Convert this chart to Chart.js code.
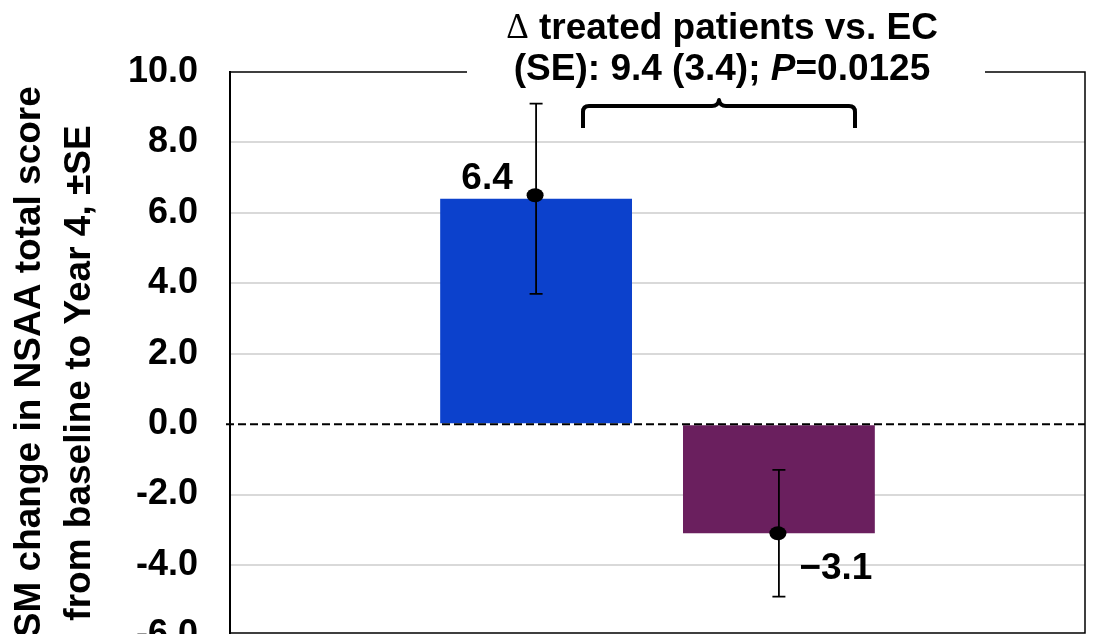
<!DOCTYPE html>
<html>
<head>
<meta charset="utf-8">
<script src="https://cdn.jsdelivr.net/npm/chart.js@4.4.1/dist/chart.umd.min.js"></script>
<style>
  html, body { margin: 0; padding: 0; background: #fff; overflow: hidden; }
  canvas { display: block; }
</style>
</head>
<body>
<canvas id="lsmChart" width="1097" height="689"></canvas>
<script>
// Data
const categories = [''];
const groups = ['Treated patients', 'External control'];
const lsmChange = [6.4, -3.1];
const markerValues = [6.5, -3.1];
const seLow = [3.7, -4.9];
const seHigh = [9.1, -1.3];
const valueLabels = ['6.4', '\u22123.1'];
const barColors = ['#0c41cc', '#6a1f5e'];
const yMin = -6;
const yMax = 10;
const yStep = 2;
const titleLine1 = ['\u0394', ' treated patients vs. EC'];
const titleLine2 = ['(SE): 9.4 (3.4); ', 'P', '=0.0125'];
const yTitleLines = ['LSM change in NSAA total score', 'from baseline to Year 4, \u00b1SE'];

const FONT = 'Arial, "Liberation Sans", sans-serif';
const BOLD = 'bold 37px ' + FONT;

// draw a line of text made of several styled parts, centred on cx
function drawParts(ctx, parts, fonts, cx, cy) {
    const widths = parts.map((p, k) => { ctx.font = fonts[k]; return ctx.measureText(p).width; });
    let x = cx - widths.reduce((a, b) => a + b, 0) / 2;
    ctx.textAlign = 'left';
    parts.forEach((p, k) => {
        ctx.font = fonts[k];
        ctx.fillText(p, x, cy);
        x += widths[k];
    });
}

// Error bars, markers, zero line, frame, title, brace, labels
const overlayPlugin = {
    id: 'overlay',
    afterDatasetsDraw(chart) {
        const ctx = chart.ctx;
        const area = chart.chartArea;
        const y = chart.scales.y;
        ctx.save();

        // dashed zero line
        const y0 = y.getPixelForValue(0);
        ctx.strokeStyle = '#000';
        ctx.lineWidth = 2;
        ctx.setLineDash([8, 4]);
        ctx.beginPath();
        ctx.moveTo(area.left - 4, y0);
        ctx.lineTo(area.right, y0);
        ctx.stroke();
        ctx.setLineDash([]);

        // frame (top + right + bottom); bottom sits a touch above the -6 line
        const yb = area.bottom - 2.5;
        ctx.lineWidth = 1.5;
        ctx.beginPath();
        ctx.moveTo(area.left, area.top);
        ctx.lineTo(area.right, area.top);
        ctx.lineTo(area.right, yb);
        ctx.lineTo(area.left, yb);
        ctx.stroke();

        // error bars + markers
        groups.forEach((g, i) => {
            const x = chart.getDatasetMeta(i).data[0].x;
            const yl = y.getPixelForValue(seLow[i]);
            const yh = y.getPixelForValue(seHigh[i]);
            ctx.lineWidth = 1.8;
            ctx.beginPath();
            ctx.moveTo(x, yl); ctx.lineTo(x, yh);
            ctx.moveTo(x - 6.5, yl); ctx.lineTo(x + 6.5, yl);
            ctx.moveTo(x - 6.5, yh); ctx.lineTo(x + 6.5, yh);
            ctx.stroke();
            ctx.fillStyle = '#000';
            ctx.beginPath();
            ctx.ellipse(x - 1, y.getPixelForValue(markerValues[i]), 8.5, 7, 0, 0, Math.PI * 2);
            ctx.fill();
        });

        // value labels
        ctx.font = 'bold 37px ' + FONT;
        ctx.fillStyle = '#000';
        ctx.textBaseline = 'middle';
        ctx.textAlign = 'center';
        const b0 = chart.getDatasetMeta(0).data[0];
        ctx.fillText(valueLabels[0], b0.x - 49, y.getPixelForValue(lsmChange[0]) - 20);
        const b1 = chart.getDatasetMeta(1).data[0];
        ctx.fillText(valueLabels[1], b1.x + 57, y.getPixelForValue(lsmChange[1]) + 36);

        // title, with a white box breaking the top frame
        const cx = 722;
        ctx.fillStyle = '#fff';
        ctx.fillRect(467, area.top - 5, 985 - 467, 10);
        ctx.fillStyle = '#000';
        drawParts(ctx, titleLine1, ['normal 35px "Liberation Serif", serif', BOLD], cx, 29);
        drawParts(ctx, titleLine2, [BOLD, 'bold italic 37px ' + FONT, BOLD], cx, 70);

        // brace
        ctx.lineWidth = 4;
        ctx.lineJoin = 'round';
        ctx.beginPath();
        ctx.moveTo(583, 128);
        ctx.lineTo(583, 112);
        ctx.quadraticCurveTo(583, 106, 589, 106);
        ctx.lineTo(712, 106);
        ctx.quadraticCurveTo(718, 106, 719, 100);
        ctx.quadraticCurveTo(720, 106, 726, 106);
        ctx.lineTo(849, 106);
        ctx.quadraticCurveTo(855, 106, 855, 112);
        ctx.lineTo(855, 128);
        ctx.stroke();

        // y-axis title (two lines, rotated)
        ctx.font = 'bold 37px ' + FONT;
        ctx.textAlign = 'center';
        ctx.textBaseline = 'middle';
        ctx.translate(0, 373);
        ctx.rotate(-Math.PI / 2);
        ctx.fillText(yTitleLines[0], 0, 30);
        ctx.fillText(yTitleLines[1], 0, 80);
        ctx.restore();
    }
};

new Chart(document.getElementById('lsmChart'), {
    type: 'bar',
    data: {
        labels: categories,
        datasets: groups.map((g, i) => ({
            label: g,
            data: [lsmChange[i]],
            backgroundColor: barColors[i],
            borderWidth: 0,
            categoryPercentage: 0.568,
            barPercentage: 0.79
        }))
    },
    options: {
        responsive: false,
        animation: false,
        layout: { padding: { top: 72, right: 12, bottom: 26, left: 0 } },
        scales: {
            x: { display: false },
            y: {
                min: yMin,
                max: yMax,
                afterFit: (scale) => { scale.width = 230; },
                ticks: {
                    stepSize: yStep,
                    padding: 32,
                    color: '#000',
                    font: { family: FONT, size: 36, weight: 'bold' },
                    callback: (v) => v.toFixed(1)
                },
                grid: {
                    color: (c) => (c.tick && c.tick.value !== 0 && c.tick.value !== yMax ? '#d9d9d9' : 'rgba(0,0,0,0)'),
                    lineWidth: 2,
                    drawTicks: false
                },
                border: { display: true, color: '#000', width: 2 }
            }
        },
        plugins: {
            legend: { display: false },
            tooltip: { enabled: false }
        }
    },
    plugins: [overlayPlugin]
});
</script>
</body>
</html>
